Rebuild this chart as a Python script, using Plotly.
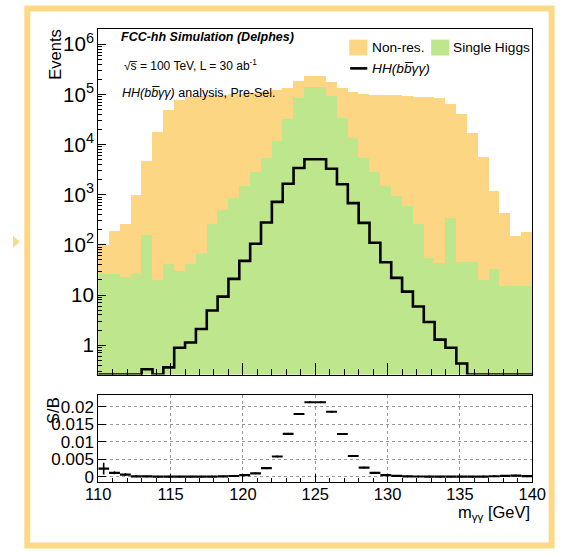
import numpy as np
import plotly.graph_objects as go

W, H = 568, 554

# 40 bins of 0.75 GeV between 110 and 140 GeV
edges = np.linspace(110.0, 140.0, 41)
centers = 0.5 * (edges[:-1] + edges[1:])
bin_width = edges[1] - edges[0]

single_higgs = [27, 26, 23, 27, 162, 20, 43, 30, 43, 71,
                263, 500, 870, 1510, 2880, 5500, 12000, 33000, 85000, 145000,
                145000, 95000, 35000, 13500, 5500, 2880, 1480, 955, 590, 263,
                55, 45, 347, 47, 47, 20, 34, 15.5, 15.5, 15.5]

non_res = [73, 164, 242, 973, 4540, 17700, 49000, 79000, 91000, 95900,
           99700, 99500, 104000, 103500, 105000, 109500, 113000, 102000, 105000, 95000,
           95000, 83000, 98000, 101500, 99500, 97100, 98500, 97000, 95400, 91700,
           87900, 85000, 65700, 42000, 17000, 5580, 1170, 425, 140, 167]

hh_signal = [0.23, 0.21, 0.16, 0.1, 0.33, 0.2, 0.36, 0.89, 1.13, 2.1,
             4.9, 9.3, 21, 48, 105, 280, 720, 1650, 3400, 5100,
             5100, 3300, 1620, 680, 275, 110, 45, 22, 11.7, 5.9,
             2.9, 1.29, 0.89, 0.43, 0.2, 0.15, 0.15, 0.1, 0.05, 0.03]

sb_err = [0.0017, 0.0004, 0.0003, 0.0001, 0.0001, 0.0001, 0.0001, 0.0001, 0.0001, 0.0001,
          0.0001, 0.0001, 0.0001, 0.0001, 0.0001, 0.0001, 0.0001, 0.0002, 0.0002, 0.0002,
          0.0002, 0.0002, 0.0002, 0.0001, 0.0001, 0.0001, 0.0001, 0.0001, 0.0001, 0.0001,
          0.0001, 0.0001, 0.0001, 0.0001, 0.0001, 0.0001, 0.0001, 0.0001, 0.0002, 0.0001]

x_range = [110, 140]
main_ylog_range = [-0.587, 6.31]
ratio_range = [-0.0014, 0.0232]

ORANGE = "#FDD683"
GREEN = "#BEE68C"
FRAME = "#FDD986"
FONT = "Liberation Sans"

total_bkg = np.array(non_res) + np.array(single_higgs)
sb = np.array(hh_signal) / total_bkg

# empty / tiny bins sit on the lower edge of the log frame
floor = 10 ** main_ylog_range[0]
hh_step = np.maximum(np.array(hh_signal), floor)
hh_step = np.append(hh_step, hh_step[-1])


def px(x):
    return x / W


def py(y):
    return 1 - y / H


main_dom_y = [py(378), py(29)]
ratio_dom_y = [py(486), py(399)]
dom_x = [px(89.5), px(545.2)]

fig = go.Figure()

fig.add_trace(go.Bar(x=centers, y=single_higgs, width=bin_width, name="Single Higgs",
                     marker=dict(color=GREEN, line=dict(width=0)),
                     xaxis="x", yaxis="y"))
fig.add_trace(go.Bar(x=centers, y=non_res, width=bin_width, name="Non-res.",
                     marker=dict(color=ORANGE, line=dict(width=0)),
                     xaxis="x", yaxis="y"))
fig.add_trace(go.Scatter(x=edges, y=hh_step, mode="lines", name="HH",
                         line=dict(shape="hv", color="black", width=2.6),
                         xaxis="x", yaxis="y"))

fig.add_trace(go.Scatter(x=centers, y=sb, mode="markers",
                         marker=dict(size=2, color="black"),
                         error_x=dict(type="constant", value=bin_width / 2, width=0,
                                      thickness=2.2, color="black"),
                         error_y=dict(type="data", array=sb_err, width=0,
                                      thickness=1.6, color="black"),
                         xaxis="x2", yaxis="y2"))

axis_common = dict(showline=True, mirror=True, linecolor="black", linewidth=1,
                   zeroline=False, tickcolor="black", ticks="inside")

fig.update_layout(
    width=W, height=H, autosize=False,
    margin=dict(l=0, r=0, t=0, b=0),
    paper_bgcolor="white", plot_bgcolor="white",
    barmode="stack", bargap=0, showlegend=False,
    font=dict(family=FONT, color="black"),
    xaxis=dict(domain=dom_x, range=x_range, anchor="y", showticklabels=False,
               tick0=110, dtick=5, ticklen=12, showgrid=False,
               minor=dict(dtick=1, ticklen=6, ticks="inside", tickcolor="black", showgrid=False),
               **axis_common),
    yaxis=dict(domain=main_dom_y, type="log", range=main_ylog_range, anchor="x",
               dtick=1, exponentformat="power", ticklen=8, showgrid=False,
               tickfont=dict(size=16.5, family=FONT),
               minor=dict(dtick="D1", ticklen=4, ticks="inside", tickcolor="black", showgrid=False),
               **axis_common),
    xaxis2=dict(domain=dom_x, range=x_range, anchor="y2", tick0=110, dtick=5, ticklen=8,
                showgrid=True, griddash="dot", gridcolor="#9a9a9a", gridwidth=1,
                tickfont=dict(size=16.5, family=FONT), ticklabelstandoff=-2,
                minor=dict(dtick=1, ticklen=4, ticks="inside", tickcolor="black", showgrid=False),
                **axis_common),
    yaxis2=dict(domain=ratio_dom_y, range=ratio_range, anchor="x2", tick0=0, dtick=0.005,
                ticklen=8, showgrid=True, griddash="dot", gridcolor="#9a9a9a", gridwidth=1,
                tickfont=dict(size=17, family=FONT),
                **axis_common),
)

annotations = [
    dict(text="Events", x=px(44), y=py(28), textangle=-90, xanchor="center", yanchor="top",
         font=dict(size=16.5)),
    dict(text="S/B", x=px(42), y=py(399), textangle=-90, xanchor="center", yanchor="top",
         font=dict(size=16.5)),
    dict(text="m<sub>γγ</sub> [GeV]", x=px(545), y=py(518), xanchor="right", yanchor="middle",
         font=dict(size=16.5)),
    dict(text="<b><i>FCC-hh Simulation (Delphes)</i></b>", x=px(111), y=py(37.5),
         xanchor="left", yanchor="middle", font=dict(size=12.5)),
    dict(text="√s\u0305 = 100 TeV, L = 30 ab<sup>-1</sup>", x=px(114), y=py(66),
         xanchor="left", yanchor="middle", font=dict(size=12)),
    dict(text="<i>HH(bb\u0305γγ)</i> analysis, Pre-Sel.", x=px(112), y=py(94),
         xanchor="left", yanchor="middle", font=dict(size=12.5)),
    dict(text="Non-res.", x=px(375), y=py(48), xanchor="left", yanchor="middle",
         font=dict(size=13.7)),
    dict(text="Single Higgs", x=px(460), y=py(48), xanchor="left", yanchor="middle",
         font=dict(size=13.7)),
    dict(text="<i>HH(bb\u0305γγ)</i>", x=px(375), y=py(69), xanchor="left", yanchor="middle",
         font=dict(size=13.7)),
]
for a in annotations:
    a.update(xref="paper", yref="paper", showarrow=False)
fig.update_layout(annotations=annotations)

shapes = [
    # legend swatches
    dict(type="rect", x0=px(353), x1=px(372), y0=py(56), y1=py(40),
         fillcolor=ORANGE, line=dict(width=0)),
    dict(type="rect", x0=px(439), x1=px(458), y0=py(56), y1=py(40),
         fillcolor=GREEN, line=dict(width=0)),
    dict(type="line", x0=px(354), x1=px(372), y0=py(69), y1=py(69),
         line=dict(color="black", width=2.6)),
    # page border and marker
    dict(type="rect", x0=px(15), x1=px(565.5), y0=py(550.5), y1=py(8.5),
         line=dict(color=FRAME, width=6), fillcolor="rgba(0,0,0,0)"),
    dict(type="path", path=f"M 0 {py(238)} L {px(7)} {py(244)} L 0 {py(250)} Z",
         fillcolor=FRAME, line=dict(width=0)),
]
for s in shapes:
    s.update(xref="paper", yref="paper")
fig.update_layout(shapes=shapes)

fig.write_html("out.html")
